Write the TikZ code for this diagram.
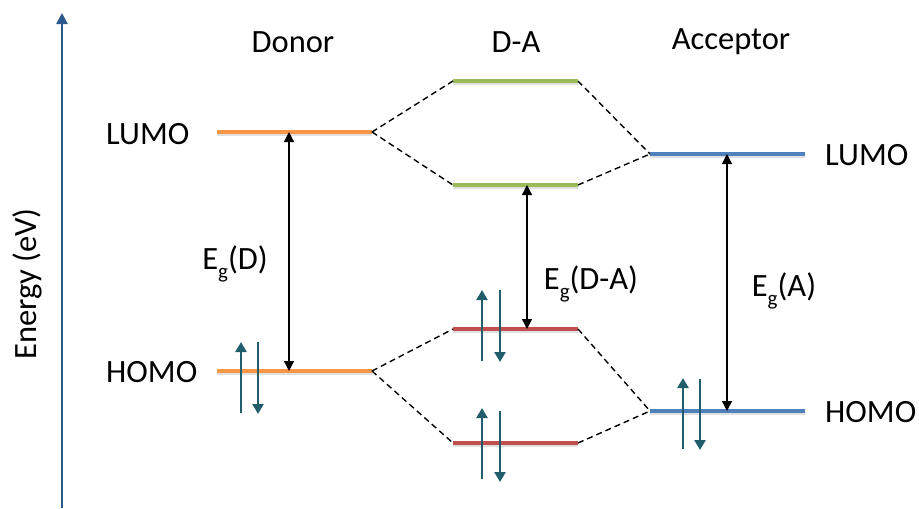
\documentclass[tikz,border=0pt]{standalone}
\usepackage{fontspec}
\setmainfont{Carlito}
\usetikzlibrary{arrows.meta}
\definecolor{donorc}{HTML}{F79646}
\definecolor{mixupc}{HTML}{9BBB59}
\definecolor{mixdnc}{HTML}{C0504D}
\definecolor{accc}{HTML}{4F81BD}
\definecolor{spinc}{HTML}{215D6B}
\definecolor{axisc}{HTML}{2A5A8C}
\newcommand{\gapsym}[1]{E\raisebox{-0.28em}{\fontsize{21}{23}\selectfont g}(#1)}
\tikzset{
  lbl/.style={font=\fontsize{32.5}{38}\selectfont, inner sep=0pt},
  level/.style={line width=4.5pt},
  lvlshadow/.style={line width=4.5pt, black, opacity=0.12},
  link/.style={dashed, dash pattern=on 6pt off 4pt, line width=1.4pt},
  gaparrow/.style={{Triangle[width=10pt,length=10pt]}-{Triangle[width=10pt,length=10pt]}, line width=1.3pt},
  spin/.style={-{Triangle[width=11pt,length=10pt]}, line width=2.8pt, spinc},
}
\begin{document}
\begin{tikzpicture}[x=1pt,y=-1pt]
\useasboundingbox (0,0) rectangle (919,509);

% energy axis
\coordinate (ax0) at (62,508);
\coordinate (ax1) at (62,13);
\draw[axisc, line width=2.4pt, -{Triangle[width=11pt,length=11pt]}] (ax0) -- (ax1);
\node[lbl, rotate=90] (eaxis) at (27,284) {Energy (eV)};

% level end points
\coordinate (dLa) at (217,132); \coordinate (dLb) at (372,132);
\coordinate (dHa) at (217,371); \coordinate (dHb) at (372,371);
\coordinate (m1a) at (453,81);  \coordinate (m1b) at (578,81);
\coordinate (m2a) at (453,185); \coordinate (m2b) at (578,185);
\coordinate (m3a) at (453,329); \coordinate (m3b) at (578,329);
\coordinate (m4a) at (453,443); \coordinate (m4b) at (578,443);
\coordinate (aLa) at (650,154); \coordinate (aLb) at (805,154);
\coordinate (aHa) at (650,411); \coordinate (aHb) at (805,411);

% soft shadows under the levels
\foreach \p/\q in {dLa/dLb,dHa/dHb,m1a/m1b,m2a/m2b,m3a/m3b,m4a/m4b,aLa/aLb,aHa/aHb}
  \draw[lvlshadow] ([yshift=-1.5pt]\p) -- ([yshift=-1.5pt]\q);

% energy levels
\draw[level, donorc] (dLa) -- (dLb);
\draw[level, donorc] (dHa) -- (dHb);
\draw[level, mixupc] (m1a) -- (m1b);
\draw[level, mixupc] (m2a) -- (m2b);
\draw[level, mixdnc] (m3a) -- (m3b);
\draw[level, mixdnc] (m4a) -- (m4b);
\draw[level, accc] (aLa) -- (aLb);
\draw[level, accc] (aHa) -- (aHb);

% correlation lines
\draw[link] (dLb) -- (m1a);
\draw[link] (dLb) -- (m2a);
\draw[link] (m1b) -- (aLa);
\draw[link] (m2b) -- (aLa);
\draw[link] (dHb) -- (m3a);
\draw[link] (dHb) -- (m4a);
\draw[link] (m3b) -- (aHa);
\draw[link] (m4b) -- (aHa);

% band gaps
\coordinate (gD1) at (289,132); \coordinate (gD2) at (289,371);
\coordinate (gM1) at (527,185); \coordinate (gM2) at (527,329);
\coordinate (gA1) at (727,154); \coordinate (gA2) at (727,411);
\draw[gaparrow] (gD1) -- (gD2);
\draw[gaparrow] (gM1) -- (gM2);
\draw[gaparrow] (gA1) -- (gA2);

% paired electrons
\coordinate (s1u0) at (241,413); \coordinate (s1u1) at (241,342);
\coordinate (s1d0) at (258,342); \coordinate (s1d1) at (258,414);
\coordinate (s2u0) at (482,361); \coordinate (s2u1) at (482,290);
\coordinate (s2d0) at (500,290); \coordinate (s2d1) at (500,362);
\coordinate (s3u0) at (482,479); \coordinate (s3u1) at (482,408);
\coordinate (s3d0) at (500,411); \coordinate (s3d1) at (500,482);
\coordinate (s4u0) at (683,449); \coordinate (s4u1) at (683,378);
\coordinate (s4d0) at (700,379); \coordinate (s4d1) at (700,450);
\foreach \s in {s1,s2,s3,s4}{
  \draw[spin] (\s u0) -- (\s u1);
  \draw[spin] (\s d0) -- (\s d1);
}

% labels
\node[lbl] (tD) at (293,42) {Donor};
\node[lbl] (tM) at (516,42) {D-A};
\node[lbl] (tA) at (731,42) {Acceptor};
\node[lbl, anchor=west] (lL) at (106,134) {LUMO};
\node[lbl, anchor=west] (lH) at (106,372) {HOMO};
\node[lbl, anchor=west] (rL) at (825,155) {LUMO};
\node[lbl, anchor=west] (rH) at (825,412) {HOMO};
\node[lbl] (eD) at (235,264) {\gapsym{D}};
\node[lbl] (eM) at (591,284) {\gapsym{D-A}};
\node[lbl] (eA) at (784,291) {\gapsym{A}};
\end{tikzpicture}
\end{document}
